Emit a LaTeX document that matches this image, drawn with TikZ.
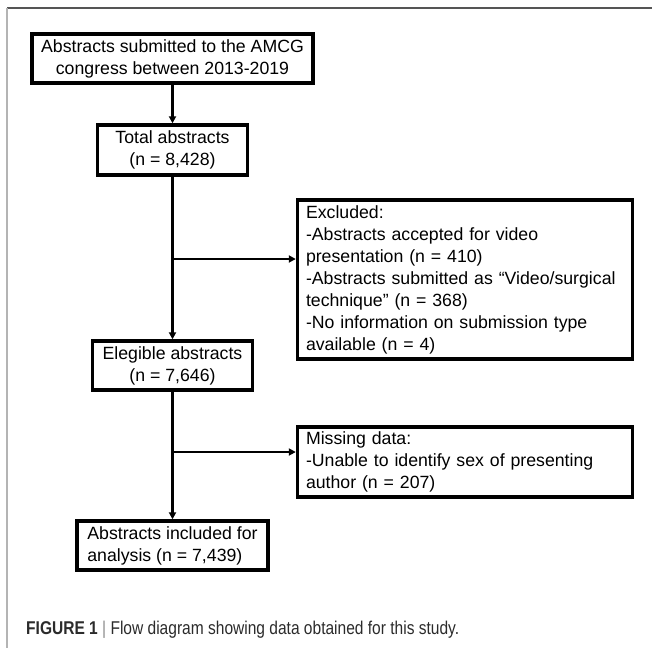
\documentclass[tikz,border=0pt]{standalone}
\usepackage{fontspec}
\setmainfont{Liberation Sans}
\newfontfamily\capfont[FakeStretch=0.84]{Liberation Sans}
\definecolor{FRMdark}{HTML}{555555}
\definecolor{FRMlight}{HTML}{B4B4B4}
\definecolor{CAPtext}{HTML}{2B2B2B}
\definecolor{CAPbar}{HTML}{8A8A8A}
\usetikzlibrary{arrows.meta, positioning}

\begin{document}
\begin{tikzpicture}[x=1pt, y=-1pt,
      box/.style={draw=black, line width=3.4pt, inner sep=0pt,
         font=\fontsize{17.7}{22}\selectfont, align=center},
      listbox/.style={box, align=left, text width=318pt, inner xsep=8.5pt},
      flow/.style={line width=2.2pt, -{Triangle[length=7pt, width=7pt]}}]
   \useasboundingbox (0,0) rectangle (652,648);
   % Frame
   \draw[FRMdark, line width=1.8pt] (7,8) -- (652,8);
   \draw[FRMlight, line width=1.8pt] (7,8) -- (7,648);
   % Main column
   \node[box, minimum width=281pt, minimum height=49pt] (submitted) at (172.5,58.5)
      {Abstracts submitted to the AMCG\\congress between 2013-2019};
   \node[box, minimum width=150pt, minimum height=50pt] (total) at (172.5,150)
      {Total abstracts\\(n = 8,428)};
   \node[box, minimum width=160pt, minimum height=49pt] (eligible) at (172.5,365.5)
      {Elegible abstracts\\(n = 7,646)};
   \node[box, align=left, minimum width=191pt, minimum height=49pt] (included) at (172.5,545.5)
      {Abstracts included for\\analysis (n = 7,439)};
   % Side boxes
   \node[listbox, minimum height=159pt] (excluded) at (465,279.5)
      {Excluded:\\-Abstracts accepted for video\\presentation (n = 410)\\-Abstracts submitted as “Video/surgical\\technique” (n = 368)\\-No information on submission type\\available (n = 4)};
   \node[listbox, minimum height=70pt] (missing) at (465,462)
      {Missing data:\\-Unable to identify sex of presenting\\author (n = 207)};
   % Connectors
   \coordinate (split1) at (172.5,259);
   \coordinate (split2) at (172.5,452);
   \draw[flow] (submitted) -- (total);
   \draw[flow] (total) -- (eligible);
   \draw[flow] (split1) -- (split1 -| excluded.west);
   \draw[flow] (eligible) -- (included);
   \draw[flow] (split2) -- (split2 -| missing.west);
   % Caption
   \node[anchor=base west, inner sep=0pt, text=CAPtext, font=\capfont\fontsize{18.5}{22}\selectfont] (caption) at (26,634)
      {\textbf{FIGURE 1} \textcolor{CAPbar}{|} Flow diagram showing data obtained for this study.};
\end{tikzpicture}
\end{document}
